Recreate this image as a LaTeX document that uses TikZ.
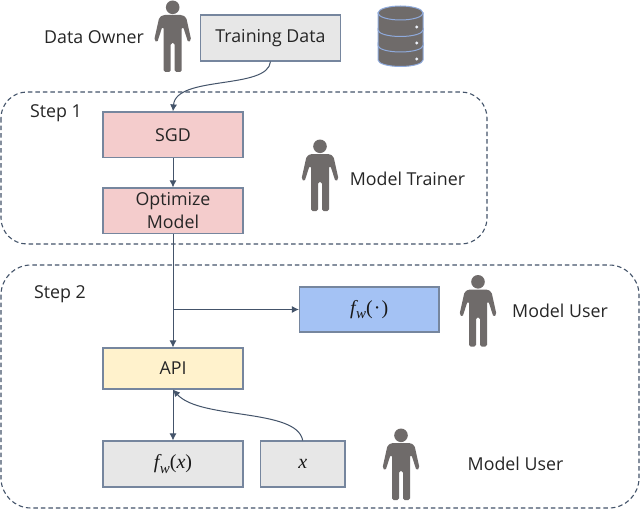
\documentclass[tikz,border=0pt]{standalone}
\usepackage{fontspec}
\setmainfont{Open Sans}
\newfontfamily\formulaface{Liberation Serif}
\newcommand{\fwsub}{{\formulaface\itshape f\kern0.5pt\raisebox{-0.22em}{\fontsize{15}{15}\selectfont w}}}
\usetikzlibrary{arrows.meta}
\definecolor{edgeblue}{HTML}{44546A}
\definecolor{boxline}{HTML}{76869E}
\definecolor{persongray}{HTML}{6F6B6A}
\definecolor{halo}{HTML}{8FAADC}
\definecolor{graybox}{HTML}{E7E7E7}
\definecolor{pinkbox}{HTML}{F4CCCC}
\definecolor{bluebox}{HTML}{A4C2F4}
\definecolor{yellowbox}{HTML}{FFF2CC}
\tikzset{
  x=1pt,y=-1pt,
  flat/.style={draw=boxline,line width=1.1pt,inner sep=0pt,align=center,font=\fontsize{17.8}{23}\selectfont,text=black!85},
  lab/.style={font=\fontsize{17.8}{20}\selectfont,text=black!85,inner sep=0pt},
  formula/.style={font=\fontsize{20}{22}\selectfont\formulaface,text=black!90},
  conn/.style={draw=edgeblue,line width=1pt,-{Latex[length=7pt,width=7pt]}},
  regionbox/.style={draw=edgeblue,line width=1.1pt,dash pattern=on 4.5pt off 3pt},
  pics/figure/.style={code={
    \fill[persongray] (0,7.3) circle[radius=6.8];
    \fill[persongray,rounded corners=1.6pt]
      (-9.5,15) -- (9.5,15) -- (13.5,17.5) -- (18.5,40) -- (15.5,42.5) -- (10.5,27) -- (9,27)
      -- (9,72) -- (2,72) -- (2,43) -- (-2,43) -- (-2,72) -- (-9,72) -- (-9,27) -- (-10.5,27)
      -- (-15.5,42.5) -- (-18.5,40) -- (-13.5,17.5) -- cycle;
  }},
  pics/dbtier/.style={code={
    \path[fill=persongray,draw=halo,line width=1pt]
      (-22.5,0) -- (-22.5,17) .. controls (-22.5,20.6) and (-12.4,23.5) .. (0,23.5)
      .. controls (12.4,23.5) and (22.5,20.6) .. (22.5,17) -- (22.5,0) -- cycle;
  }}
}
\begin{document}
\begin{tikzpicture}
\useasboundingbox (0,0) rectangle (640,511);
\fill[white] (0,0) rectangle (640,511);
% regions
\draw[regionbox,rounded corners=26pt] (1,92) rectangle (487,244);
\draw[regionbox,rounded corners=30pt] (1,265) rectangle (639,508);
% boxes
\node[flat,fill=graybox,minimum width=140pt,minimum height=46pt] (train) at (270.5,38) {Training Data};
\node[flat,fill=pinkbox,minimum width=140pt,minimum height=45.5pt] (sgd) at (173,134.7) {SGD};
\node[flat,fill=pinkbox,minimum width=140pt,minimum height=45.5pt] (opt) at (173,210.7) {Optimize\\Model};
\node[flat,formula,fill=bluebox,minimum width=139.5pt,minimum height=45pt] (fwdot) at (369.2,309.5) {\fwsub(\kern1pt·\kern1pt)};
\node[flat,fill=yellowbox,minimum width=140pt,minimum height=41pt] (api) at (173,368.5) {API};
\node[flat,formula,fill=graybox,minimum width=140pt,minimum height=46pt] (fwx) at (173,464) {\fwsub({\itshape x})};
\node[flat,formula,fill=graybox,minimum width=84.5pt,minimum height=46pt] (xin) at (302.7,464) {\itshape x};
% labels
\node[lab] (owner) at (94,37) {Data Owner};
\node[lab] (step1) at (56,113) {Step 1};
\node[lab] (trainer) at (407.5,179) {Model Trainer};
\node[lab] (step2) at (60,294) {Step 2};
\node[lab] (user1) at (560,311) {Model User};
\node[lab] (user2) at (515.5,464) {Model User};
% people
\pic at (172.7,0) {figure};
\pic at (320,139) {figure};
\pic at (478,274.5) {figure};
\pic at (401,428) {figure};
% database
\pic at (400.5,43) {dbtier};
\pic at (400.5,28.5) {dbtier};
\pic at (400.5,13) {dbtier};
\path[fill=persongray,draw=halo,line width=1pt] (400.5,13) ellipse[x radius=22.5,y radius=7];
\fill[white!85!halo] (416.7,27) circle[radius=1.7] (416.7,43) circle[radius=1.7] (416.7,59) circle[radius=1.7];
% connectors
\draw[conn] (train.south) .. controls (268,90) and (176,75) .. (sgd.north);
\draw[conn] (sgd) -- (opt);
\draw[conn] (opt) -- (api);
\coordinate (branch) at (opt.south |- fwdot.west);
\draw[conn] (branch) -- (fwdot.west);
\draw[conn] (api) -- (fwx);
\draw[conn] (xin.north) .. controls (297,408) and (200,420) .. (api.south);
\end{tikzpicture}
\end{document}
